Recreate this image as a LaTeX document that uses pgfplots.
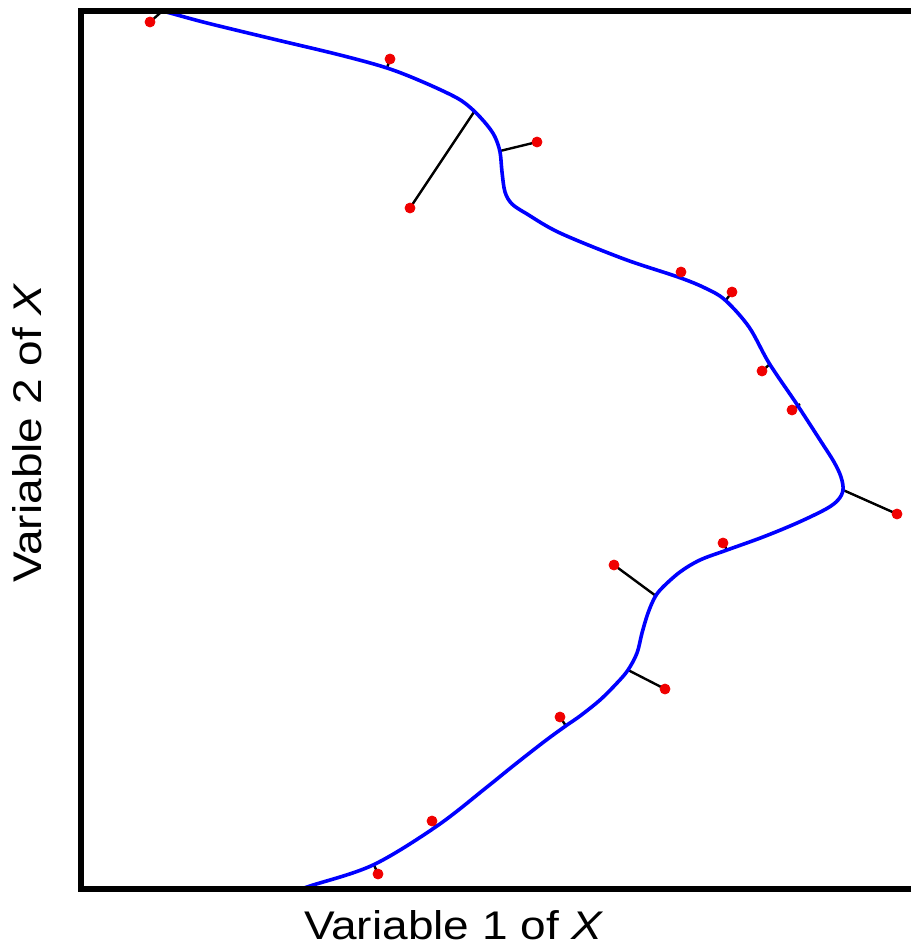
\documentclass[border=0pt]{standalone}
\usepackage{pgfplots}
\pgfplotsset{compat=1.18}
\usepackage{fontspec}
\setmainfont{Liberation Sans}[FakeStretch=1.15]
\definecolor{curveblue}{RGB}{0,0,255}
\definecolor{ptred}{RGB}{240,0,0}

\begin{document}
\begin{tikzpicture}
\begin{axis}[
    scale only axis,
    width=415pt, height=439pt,
    xmin=81, xmax=911,
    ymin=11, ymax=889,
    y dir=reverse,
    hide axis,
]
% projections onto the curve
\addplot[black, line width=1.2pt] coordinates {(150,22) (168,6)};
\addplot[black, line width=1.2pt] coordinates {(390,59) (387,68)};
\addplot[black, line width=1.2pt] coordinates {(537,142) (500,151)};
\addplot[black, line width=1.2pt] coordinates {(410,208) (474,112)};
\addplot[black, line width=1.2pt] coordinates {(681,272) (679,278)};
\addplot[black, line width=1.2pt] coordinates {(732,292) (726,300)};
\addplot[black, line width=1.2pt] coordinates {(762,371) (770,364)};
\addplot[black, line width=1.2pt] coordinates {(792,410) (800,404)};
\addplot[black, line width=1.2pt] coordinates {(897,514) (843,490)};
\addplot[black, line width=1.2pt] coordinates {(723,543) (727,550)};
\addplot[black, line width=1.2pt] coordinates {(614,565) (656,596)};
\addplot[black, line width=1.2pt] coordinates {(665,689) (628,670)};
\addplot[black, line width=1.2pt] coordinates {(560,717) (566,726)};
\addplot[black, line width=1.2pt] coordinates {(432,821) (437,827)};
\addplot[black, line width=1.2pt] coordinates {(378,874) (374,865)};
% principal curve
\addplot[curveblue, line width=1.8pt, smooth, tension=0.55] coordinates {
    (140,5) (170,13) (207,23) (273,39) (340,55) (387,68) (423,82) (457,98)
    (473,110) (487,125) (495,137) (500,152) (502,172) (505,192) (512,204)
    (527,214) (560,233) (624,259) (678,277) (705,288) (725,300) (749,327)
    (769,363) (796,403) (820,440) (834,462) (841,477) (843,490) (838,500)
    (826,509) (797,523) (763,537) (727,550) (700,560) (680,572)
    (663,587) (655,597) (648,613) (642,633) (637,653) (628,670) (617,683)
    (600,700) (580,716) (567,725) (545,741) (513,766) (487,787) (437,826)
    (373,865) (310,886) (290,893)
};
% data points
\addplot[only marks, mark=*, mark size=2.5pt, ptred] coordinates {
    (150,22) (390,59) (537,142) (410,208) (681,272) (732,292) (762,371)
    (792,410) (897,514) (723,543) (614,565) (665,689) (560,717) (432,821)
    (378,874)
};
\coordinate (tl) at (axis cs:81,11);
\coordinate (tr) at (axis cs:911,11);
\coordinate (bl) at (axis cs:81,889);
\coordinate (br) at (axis cs:911,889);
\coordinate (xl) at (axis cs:454,940);
\coordinate (yl) at (axis cs:42,433);
\coordinate (pa) at (axis cs:0,0);
\coordinate (pb) at (axis cs:911,952);
\end{axis}
\draw[line width=3pt, line join=miter] (br) -- (bl) -- (tl) -- (tr);
\node[anchor=base, inner sep=0pt, font=\fontsize{20}{24}\selectfont] at (xl) {Variable 1 of \textit{X}};
\node[anchor=base, rotate=90, inner sep=0pt, font=\fontsize{20}{24}\selectfont] at (yl) {Variable 2 of \textit{X}};
\pgfresetboundingbox
\path (pa) rectangle (pb);
\end{tikzpicture}
\end{document}
